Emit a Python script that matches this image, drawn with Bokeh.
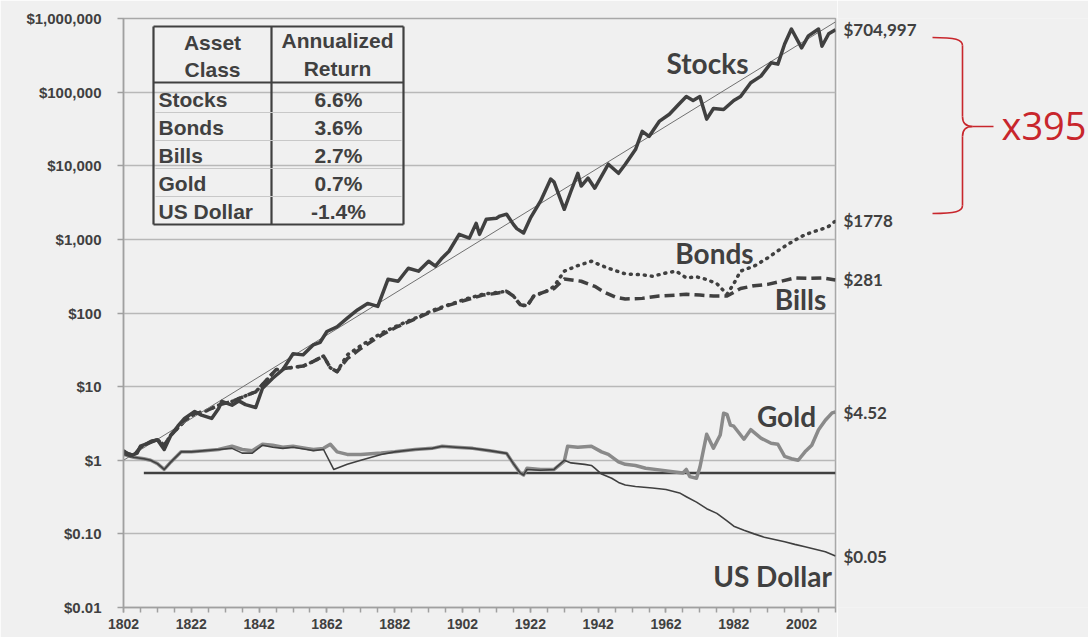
from bokeh.plotting import figure
from bokeh.models import Range1d, FixedTicker, CustomJSTickFormatter
from bokeh.layouts import row
from bokeh.embed import file_html
from bokeh.resources import INLINE
from bokeh.core.properties import value
import math

# ---------------- data ----------------
stocks_years = [1802, 1804, 1806, 1807, 1810, 1812, 1814, 1816, 1818, 1820, 1823, 1825, 1828, 1830, 1831,
                1834, 1836, 1838, 1841, 1843, 1846, 1849, 1852, 1855, 1858, 1860, 1862, 1865, 1868, 1871,
                1874, 1877, 1880, 1883, 1886, 1889, 1892, 1894, 1896, 1898, 1901, 1904, 1906, 1907, 1909,
                1912, 1913, 1915, 1917, 1918, 1920, 1922, 1925, 1928, 1929, 1932, 1934, 1936, 1937, 1939,
                1941, 1945, 1948, 1950, 1953, 1955, 1957, 1960, 1963, 1966, 1968, 1970, 1972, 1974, 1976,
                1979, 1982, 1984, 1987, 1990, 1993, 1995, 1997, 1999, 2002, 2004, 2007, 2008, 2010, 2012]
stocks_vals = [1.35, 1.15, 1.25, 1.55, 1.75, 1.9, 1.4, 2.2, 2.9, 3.7, 4.6, 4.1, 3.7, 5.0, 6.3,
               5.6, 6.4, 5.7, 5.2, 9.5, 13, 17, 28, 27, 37, 40, 56, 65, 85, 110,
               135, 123, 287, 270, 405, 370, 505, 433, 560, 690, 1170, 1040, 1650, 1170, 1880,
               1940, 2070, 2200, 1600, 1400, 1220, 1940, 3300, 6600, 6000, 2560, 4540, 7900, 5300, 6800,
               4960, 10500, 7900, 10500, 16600, 29400, 25000, 40000, 50000, 70000, 87000, 77000, 87000, 43000, 60000,
               58000, 77000, 87000, 134000, 165000, 250000, 240000, 450000, 720000, 400000, 580000, 720000, 420000, 620000, 704997]

bonds_years = [1802, 1805, 1807, 1810, 1812, 1814, 1816, 1820, 1823, 1826, 1830, 1834, 1838, 1841, 1844,
               1847, 1851, 1855, 1858, 1861, 1863, 1865, 1868, 1872, 1878, 1883, 1888, 1893, 1898, 1903,
               1908, 1912, 1915, 1917, 1919, 1921, 1923, 1927, 1929, 1932, 1936, 1940, 1943, 1945, 1950,
               1955, 1958, 1962, 1965, 1968, 1971, 1974, 1977, 1980, 1982, 1984, 1988, 1992, 1995, 1998,
               2002, 2005, 2008, 2010, 2012]
bonds_vals = [1.3, 1.15, 1.5, 1.8, 1.9, 1.6, 2.2, 3.4, 4.3, 4.6, 5.6, 6.3, 7.5, 8.5, 12,
              17, 18, 19, 22, 26, 18, 16, 27, 36, 53, 68, 85, 108, 130, 155,
              180, 190, 197, 170, 130, 125, 170, 200, 230, 370, 440, 505, 440, 405, 340,
              330, 315, 350, 370, 300, 310, 285, 250, 180, 250, 370, 433, 560, 700, 860,
              1100, 1250, 1380, 1500, 1778]

bills_years = [1802, 1805, 1807, 1810, 1812, 1814, 1816, 1820, 1823, 1826, 1830, 1834, 1838, 1841, 1844,
               1847, 1851, 1855, 1858, 1861, 1863, 1865, 1868, 1872, 1878, 1883, 1888, 1893, 1898, 1903,
               1908, 1912, 1915, 1917, 1919, 1921, 1923, 1927, 1929, 1932, 1937, 1941, 1944, 1947, 1950,
               1955, 1960, 1965, 1968, 1972, 1976, 1980, 1984, 1988, 1992, 1996, 2000, 2004, 2008, 2012]
bills_vals = [1.3, 1.15, 1.5, 1.8, 1.9, 1.6, 2.2, 3.4, 4.3, 4.6, 5.6, 6.3, 7.5, 8.5, 12,
              17, 18, 19, 22, 26, 18, 16, 24, 33, 50, 66, 83, 105, 128, 150,
              175, 185, 197, 170, 130, 123, 170, 200, 215, 290, 270, 230, 190, 165, 155,
              158, 170, 175, 180, 175, 170, 170, 215, 235, 245, 270, 300, 295, 300, 281]

gold_years = [1802, 1805, 1808, 1810, 1812, 1814, 1816, 1819, 1822, 1826, 1830, 1834, 1837, 1840, 1843,
              1846, 1849, 1852, 1856, 1858, 1861, 1863, 1865, 1868, 1872, 1878, 1882, 1888, 1893, 1896,
              1900, 1905, 1910, 1915, 1917, 1919, 1920, 1921, 1925, 1929, 1932, 1933, 1936, 1940, 1943,
              1945, 1948, 1950, 1953, 1956, 1960, 1964, 1967, 1968, 1969, 1971, 1972, 1974, 1976, 1978,
              1979, 1980, 1981, 1982, 1985, 1987, 1990, 1993, 1995, 1997, 1999, 2001, 2003, 2005, 2007,
              2009, 2011, 2012]
gold_vals = [1.2, 1.1, 1.05, 1.0, 0.9, 0.75, 0.95, 1.3, 1.3, 1.35, 1.4, 1.55, 1.4, 1.35, 1.65,
             1.6, 1.5, 1.55, 1.45, 1.4, 1.45, 1.65, 1.3, 1.2, 1.2, 1.25, 1.3, 1.4, 1.45, 1.55,
             1.5, 1.45, 1.35, 1.24, 0.9, 0.67, 0.63, 0.78, 0.75, 0.75, 0.97, 1.55, 1.5, 1.55, 1.3,
             1.2, 0.95, 0.88, 0.85, 0.78, 0.74, 0.70, 0.67, 0.75, 0.6, 0.57, 0.8, 2.25, 1.46, 2.2,
             4.35, 4.2, 3.0, 2.9, 1.93, 2.6, 2.0, 1.7, 1.65, 1.13, 1.05, 1.0, 1.3, 1.6, 2.6,
             3.5, 4.4, 4.52]

dollar_years = [1802, 1805, 1808, 1810, 1812, 1814, 1816, 1819, 1822, 1826, 1830, 1834, 1837, 1840, 1843,
                1846, 1849, 1852, 1856, 1858, 1861, 1864, 1868, 1872, 1878, 1882, 1888, 1893, 1896, 1900,
                1905, 1910, 1915, 1917, 1919, 1920, 1921, 1925, 1929, 1932, 1934, 1938, 1940, 1941, 1943,
                1946, 1948, 1950, 1953, 1958, 1962, 1966, 1968, 1971, 1974, 1977, 1980, 1982, 1985, 1988,
                1991, 1994, 1997, 2000, 2003, 2006, 2009, 2012]
dollar_vals = [1.2, 1.1, 1.05, 1.0, 0.9, 0.75, 0.95, 1.3, 1.3, 1.35, 1.4, 1.45, 1.25, 1.25, 1.6,
               1.5, 1.45, 1.5, 1.4, 1.35, 1.4, 0.75, 0.88, 1.0, 1.2, 1.3, 1.4, 1.45, 1.55, 1.5,
               1.45, 1.35, 1.24, 0.9, 0.67, 0.63, 0.75, 0.73, 0.75, 1.0, 0.92, 0.88, 0.85, 0.78, 0.65,
               0.57, 0.50, 0.46, 0.44, 0.42, 0.40, 0.36, 0.32, 0.27, 0.22, 0.19, 0.15, 0.127, 0.112, 0.10,
               0.09, 0.084, 0.078, 0.072, 0.067, 0.062, 0.057, 0.05]

ref_years = [1808, 2012]
ref_vals = [0.67, 0.67]

trend_years = [1802, 2012]
trend_vals = [1.0, 900000]

y_ticks = [0.01, 0.1, 1, 10, 100, 1000, 10000, 100000, 1000000]
y_labels = ["$0.01", "$0.10", "$1", "$10", "$100", "$1,000", "$10,000", "$100,000", "$1,000,000"]
x_major = [1802, 1822, 1842, 1862, 1882, 1902, 1922, 1942, 1962, 1982, 2002]
x_minor = list(range(1802, 2013, 5))

table_classes = ["Stocks", "Bonds", "Bills", "Gold", "US Dollar"]
table_returns = ["6.6%", "3.6%", "2.7%", "0.7%", "-1.4%"]
end_labels = ["$704,997", "$1778", "$281", "$4.52", "$0.05"]
end_values = [stocks_vals[-1], bonds_vals[-1], bills_vals[-1], gold_vals[-1], dollar_vals[-1]]
multiple_text = "x395"

# ---------------- styling / geometry ----------------
BG = "#f0f0f0"
DARK = "#404040"
RED = "#c8262c"
X0, X1 = 1802, 2012
Y0, Y1 = 0.01, 1e6
FL, FR, FT, FB = 123, 835, 18, 607   # frame edges in pixels
TOTAL_W, TOTAL_H = 1088, 637
P_W = FR + 2
P2_LEFT = P_W


def yr(px):
    return X0 + (px - FL) * (X1 - X0) / (FR - FL)


def val(py):
    l0, l1 = math.log10(Y0), math.log10(Y1)
    return 10 ** (l1 - (py - FT) * (l1 - l0) / (FB - FT))


p = figure(width=P_W, height=TOTAL_H, x_range=Range1d(X0, X1), y_range=Range1d(Y0, Y1),
           y_axis_type="log", output_backend="svg", toolbar_location=None,
           min_border_left=FL, min_border_right=2, min_border_top=FT,
           min_border_bottom=TOTAL_H - FB,
           background_fill_color=BG, border_fill_color=BG, outline_line_color="#a8a8a8",
           outline_line_width=1.5)

p.xgrid.visible = False
p.ygrid.ticker = FixedTicker(ticks=y_ticks)
p.ygrid.grid_line_color = "#b8b8b8"
p.ygrid.grid_line_width = 1.5

p.yaxis.ticker = FixedTicker(ticks=y_ticks)
p.yaxis.formatter = CustomJSTickFormatter(args=dict(tv=y_ticks, tl=y_labels), code="""
let best = 0, bd = Infinity;
for (let i = 0; i < tv.length; i++) {
  const d = Math.abs(Math.log10(tv[i]) - Math.log10(tick));
  if (d < bd) { bd = d; best = i; }
}
return tl[best];
""")
p.yaxis.major_tick_in = 0
p.yaxis.major_tick_out = 6
p.yaxis.major_label_standoff = 16

p.xaxis.ticker = FixedTicker(ticks=x_major, minor_ticks=x_minor)
p.xaxis.major_tick_in = 0
p.xaxis.major_tick_out = 5
p.xaxis.minor_tick_in = 0
p.xaxis.minor_tick_out = 5
p.xaxis.major_label_standoff = 6

for ax in (p.xaxis, p.yaxis):
    ax.axis_line_color = "#a0a0a0"
    ax.axis_line_width = 1.5
    ax.major_tick_line_color = "#a0a0a0"
    ax.major_tick_line_width = 1.5
    ax.minor_tick_line_color = "#a0a0a0"
    ax.minor_tick_line_width = 1.5
    ax.major_label_text_font = "Liberation Sans"
    ax.major_label_text_font_style = "bold"
    ax.major_label_text_color = DARK
p.yaxis.minor_tick_line_color = None
p.yaxis.major_label_text_font_size = "15px"
p.xaxis.major_label_text_font_size = "14px"

# series
p.line(ref_years, ref_vals, line_color=DARK, line_width=2.5)
p.line(gold_years, gold_vals, line_color="#8a8a8a", line_width=3.5, line_join="round")
p.line(dollar_years, dollar_vals, line_color=DARK, line_width=1.6, line_join="round")
p.line(bills_years, bills_vals, line_color=DARK, line_width=3.5, line_dash="10 5", line_join="round")
p.line(bonds_years, bonds_vals, line_color=DARK, line_width=3.5, line_dash="1 6", line_cap="round",
       line_join="round")
p.line(trend_years, trend_vals, line_color="#707070", line_width=1)
p.line(stocks_years, stocks_vals, line_color=DARK, line_width=3.5, line_join="round")

# series names
name_px = [(707, 62), (714, 252), (800, 298), (786, 415), (772, 575)]
p.text(x=[yr(a) for a, b in name_px], y=[val(b) for a, b in name_px], text=table_classes,
       text_font=value("Lato"), text_font_style="bold", text_font_size="28px",
       text_color=DARK, text_align="center", text_baseline="middle")

# table
TL, TR, TT, TB, TH, TC = 153, 403, 26, 224, 82, 271
row_lines = [112, 140, 168, 196]
row_centers = [99, 127, 155, 183, 211]
p.segment(x0=[yr(a) for a in (TL, TL, TL, TR, TL, TC)],
          y0=[val(b) for b in (TT, TB, TT, TT, TH, TT)],
          x1=[yr(a) for a in (TR, TR, TL, TR, TR, TC)],
          y1=[val(b) for b in (TT, TB, TB, TB, TH, TB)],
          line_color=DARK, line_width=2.2)
p.segment(x0=[yr(TL + 2)] * 4, x1=[yr(TR - 2)] * 4, y0=[val(r) for r in row_lines],
          y1=[val(r) for r in row_lines], line_color="#c8c8c8", line_width=1)
tfont = dict(text_font=value("Liberation Sans"), text_font_style="bold", text_font_size="21px",
             text_color=DARK, text_baseline="middle")
p.text(x=[yr(212), yr(212), yr(337), yr(337)], y=[val(42), val(69), val(40), val(68)],
       text=["Asset", "Class", "Annualized", "Return"], text_align="center", **tfont)
p.text(x=[yr(158)] * 5, y=[val(c) for c in row_centers], text=table_classes, text_align="left", **tfont)
p.text(x=[yr(338)] * 5, y=[val(c) for c in row_centers], text=table_returns, text_align="center", **tfont)

# ---------------- right panel ----------------
P2_W = TOTAL_W - P_W
p2 = figure(width=P2_W, height=TOTAL_H, x_range=Range1d(0, P2_W),
            y_range=Range1d(Y0, Y1), y_axis_type="log", x_axis_location=None, y_axis_location=None,
            output_backend="svg", toolbar_location=None,
            min_border_left=0, min_border_right=0, min_border_top=FT, min_border_bottom=TOTAL_H - FB,
            background_fill_color=BG, border_fill_color=BG, outline_line_color=None)
p2.grid.visible = False


def qx(px):
    return px - P2_LEFT


p2.text(x=[qx(843)] * 5, y=end_values, text=end_labels, text_font=value("Lato"),
        text_font_style="bold", text_font_size="17px", text_color=DARK,
        text_align="left", text_baseline="middle")

# curly bracket
bx0, bx1, btip = 932, 962, 993
byt, bym, byb = 37, 126, 213
p2.bezier(x0=[qx(bx0), qx(bx1), qx(bx1 + 10), qx(bx1)],
          y0=[val(byt), val(bym - 10), val(bym), val(byb - 8)],
          x1=[qx(bx1), qx(bx1 + 10), qx(bx1), qx(bx0)],
          y1=[val(byt + 8), val(bym), val(bym + 10), val(byb)],
          cx0=[qx(955), qx(bx1), qx(bx1 + 4), qx(bx1)],
          cy0=[val(byt), val(bym - 3), val(bym), val(byb - 2)],
          cx1=[qx(bx1), qx(bx1 + 4), qx(bx1), qx(955)],
          cy1=[val(byt + 2), val(bym), val(bym + 3), val(byb)],
          line_color=RED, line_width=1.6)
p2.segment(x0=[qx(bx1), qx(bx1), qx(bx1 + 10)], y0=[val(byt + 8), val(bym + 10), val(bym)],
           x1=[qx(bx1), qx(bx1), qx(btip)], y1=[val(bym - 10), val(byb - 8), val(bym)],
           line_color=RED, line_width=1.6)
p2.text(x=[qx(1001)], y=[val(124)], text=[multiple_text], text_font=value("Open Sans"),
        text_font_size="38px", text_color=RED, text_align="left", text_baseline="middle")

layout = row(p, p2)
open("out.html", "w").write(file_html(layout, INLINE))
